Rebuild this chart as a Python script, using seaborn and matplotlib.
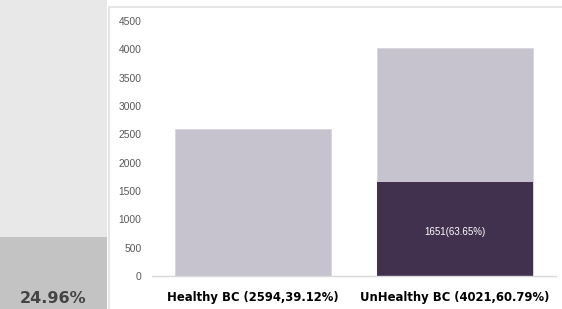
import seaborn as sns
import numpy as np
import pandas as pd
import matplotlib.pyplot as plt
from matplotlib.patches import Rectangle

# data
categories = ['Healthy BC (2594,39.12%)', 'UnHealthy BC (4021,60.79%)']
totals = [2594, 4021]
unhealthy_part = [0, 1651]
part_labels = ['', '1651(63.65%)']
y_ticks = [0, 500, 1000, 1500, 2000, 2500, 3000, 3500, 4000, 4500]

left_share = [24.96]
left_label = ['24.96%']

light_bar = '#c6c3ce'
dark_bar = '#41314f'

sns.set_style('white')
plt.rcParams['font.family'] = ['DejaVu Sans']

W, H = 562, 309
fig = plt.figure(figsize=(W / 100, H / 100), dpi=100)
fig.patch.set_facecolor('white')

# left cropped panel
fig.patches.append(Rectangle((0, 0), 107 / W, 1, transform=fig.transFigure,
                             facecolor='#e8e8e8', edgecolor='none', zorder=-1))
ax_l = fig.add_axes([0, 0, 107 / W, 1])
ax_l.set_facecolor('#e8e8e8')
df_l = pd.DataFrame({'c': ['a'], 'v': left_share})
sns.barplot(data=df_l, x='c', y='v', color='#c3c3c3', width=1.0, saturation=1,
            linewidth=0, ax=ax_l)
ax_l.set_xlim(-0.5, 0.5)
ax_l.set_ylim(0, 107)
ax_l.text(0, 3.8, left_label[0], ha='center', va='center', fontsize=11.5,
          fontweight='bold', color='#444444')
ax_l.set_axis_off()

# frame of the main panel
fig.patches.append(Rectangle((109 / W, -0.01), 1, (H - 7) / H + 0.01, transform=fig.transFigure,
                             facecolor='white', edgecolor='#e2e2e2', linewidth=1.2, zorder=-1))

# main chart
ax = fig.add_axes([152 / W, (H - 276) / H, (556 - 152) / W, (276 - 21) / H])
df = pd.DataFrame({'cat': categories, 'total': totals, 'part': unhealthy_part})
sns.barplot(data=df, x='cat', y='total', color=light_bar, width=0.77, saturation=1,
            linewidth=0.6, edgecolor='#d8d6dd', ax=ax)
sns.barplot(data=df, x='cat', y='part', color=dark_bar, width=0.77, saturation=1,
            linewidth=0, ax=ax)

for i, (v, lab) in enumerate(zip(unhealthy_part, part_labels)):
    if lab:
        ax.text(i, v / 2 - 50, lab, ha='center', va='center', fontsize=7,
                color='white', family=['Liberation Sans'])

ax.set_xlim(-0.5, 1.5)
ax.set_ylim(0, 4500)
ax.set_yticks(y_ticks)
ax.set_yticklabels([str(t) for t in y_ticks], fontsize=7.4, color='#595959',
                   family=['Liberation Sans'])
ax.tick_params(axis='y', length=0, pad=7.5)
ax.tick_params(axis='x', length=0, pad=11)
for t in ax.get_xticklabels():
    t.set_fontweight('bold')
    t.set_fontsize(8.4)
    t.set_color('black')
ax.set_xlabel('')
ax.set_ylabel('')
sns.despine(ax=ax, left=True, top=True, right=True)
ax.spines['bottom'].set_color('#d9d9d9')
ax.spines['bottom'].set_linewidth(1)
ax.patch.set_alpha(0)

fig.savefig('out.png', dpi=100)
